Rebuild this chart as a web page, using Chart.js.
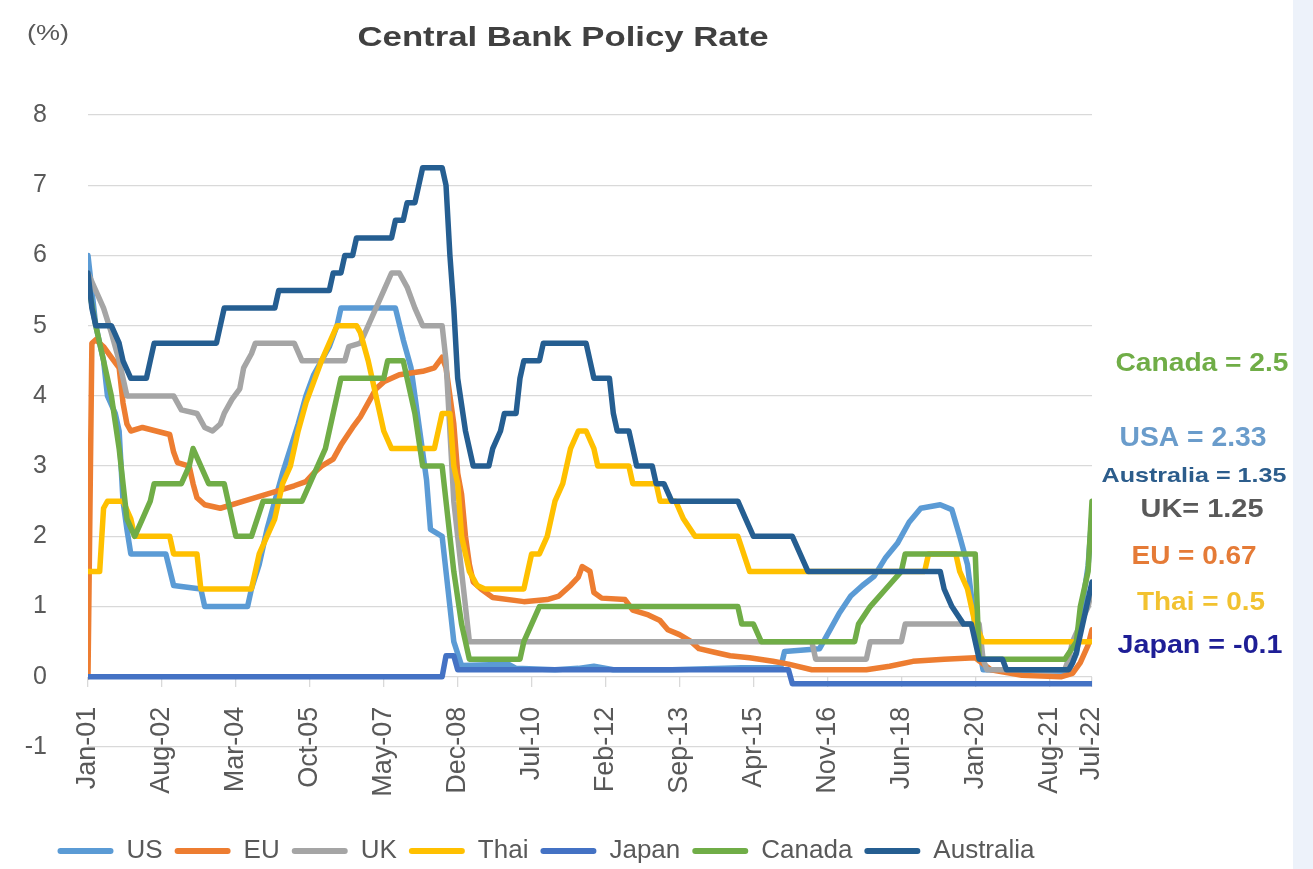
<!DOCTYPE html>
<html>
<head>
<meta charset="utf-8">
<title>Central Bank Policy Rate</title>
<script src="https://cdn.jsdelivr.net/npm/chart.js@4.4.1/dist/chart.umd.min.js"></script>
<style>
    html, body { margin: 0; padding: 0; }
    body { background: linear-gradient(to right, #ffffff 1293px, #edf2fa 1293px); }
    #chartWrap { width: 1313px; height: 869px; }
</style>
</head>
<body>
<div id="chartWrap"><canvas id="policyRateChart" width="1313" height="869"></canvas></div>
<script>
// Central Bank Policy Rate, monthly, Jan-01 .. Jul-22
// x values are month numbers counted from Jan-01 (= 0)

const tickMonths = [0, 19, 38, 57, 76, 95, 114, 133, 152, 171, 190, 209, 228, 247, 258];
const tickLabels = ['Jan-01', 'Aug-02', 'Mar-04', 'Oct-05', 'May-07', 'Dec-08', 'Jul-10', 'Feb-12',
    'Sep-13', 'Apr-15', 'Nov-16', 'Jun-18', 'Jan-20', 'Aug-21', 'Jul-22'];

const seriesNames = ['US', 'EU', 'UK', 'Thai', 'Japan', 'Canada', 'Australia'];
const seriesColors = ['#5B9BD5', '#ED7D31', '#A5A5A5', '#FFC000', '#4472C4', '#70AD47', '#255E91'];

// [month, rate %]
const usRate = [[0, 6.0], [1, 5.5], [2, 5.0], [4, 4.5], [5, 4.0], [7, 3.75], [8, 3.5], [9, 2.5], [10, 2.1],
    [11, 1.75], [20, 1.75], [22, 1.3], [29, 1.25], [30, 1.0], [41, 1.0], [42, 1.25], [44, 1.6], [46, 2.1],
    [48, 2.5], [50, 2.9], [52, 3.25], [54, 3.6], [56, 4.0], [58, 4.3], [60, 4.5], [62, 4.7], [64, 5.0],
    [65, 5.25], [79, 5.25], [81, 4.8], [83, 4.4], [85, 3.6], [87, 2.8], [88, 2.1], [91, 2.0], [92, 1.5],
    [94, 0.5], [96, 0.16], [108, 0.18], [110, 0.12], [120, 0.1], [126, 0.12], [130, 0.15], [135, 0.1],
    [150, 0.1], [168, 0.13], [178, 0.13], [179, 0.36], [188, 0.4], [190, 0.6], [193, 0.9], [196, 1.15],
    [199, 1.3], [202, 1.43], [205, 1.7], [208, 1.9], [211, 2.2], [214, 2.4], [219, 2.45], [222, 2.38],
    [224, 2.0], [226, 1.6], [228, 0.7], [230, 0.1], [252, 0.08], [253, 0.2], [254, 0.33], [255, 0.77],
    [256, 1.21], [257, 1.58], [258, 2.33]];

const euRate = [[0, 0.0], [1, 4.75], [2, 4.8], [4, 4.7], [6, 4.55], [8, 4.4], [9, 3.9], [10, 3.6], [11, 3.5],
    [14, 3.55], [21, 3.45], [22, 3.2], [23, 3.05], [26, 3.0], [27, 2.75], [28, 2.55], [30, 2.45], [34, 2.4],
    [40, 2.5], [46, 2.6], [53, 2.72], [56, 2.78], [58, 2.9], [60, 3.0], [63, 3.1], [65, 3.3], [68, 3.55],
    [70, 3.7], [72, 3.9], [74, 4.1], [76, 4.2], [80, 4.3], [86, 4.35], [89, 4.4], [91, 4.55], [92, 4.4],
    [94, 3.6], [95, 2.9], [96, 2.6], [97, 2.0], [98, 1.6], [99, 1.35], [101, 1.25], [104, 1.13], [112, 1.07],
    [118, 1.1], [121, 1.15], [124, 1.3], [126, 1.42], [127, 1.57], [129, 1.5], [130, 1.2], [132, 1.12],
    [138, 1.1], [140, 0.95], [144, 0.88], [147, 0.8], [149, 0.67], [152, 0.6], [155, 0.5], [157, 0.4],
    [161, 0.35], [165, 0.3], [170, 0.27], [176, 0.22], [180, 0.18], [186, 0.1], [200, 0.1], [206, 0.15],
    [212, 0.22], [220, 0.25], [228, 0.27], [232, 0.1], [240, 0.02], [250, 0.0], [253, 0.05], [255, 0.2],
    [257, 0.45], [258, 0.67]];

const ukRate = [[0, 5.75], [2, 5.5], [4, 5.25], [6, 4.9], [8, 4.5], [10, 4.0], [22, 4.0], [24, 3.8], [28, 3.75],
    [30, 3.55], [32, 3.5], [34, 3.6], [35, 3.75], [37, 3.95], [39, 4.1], [40, 4.4], [42, 4.6], [43, 4.75],
    [53, 4.75], [55, 4.5], [66, 4.5], [67, 4.7], [70, 4.75], [72, 5.0], [74, 5.25], [76, 5.5], [78, 5.75],
    [80, 5.75], [82, 5.55], [84, 5.25], [86, 5.0], [91, 5.0], [92, 4.5], [93, 3.5], [94, 2.5], [95, 2.0],
    [96, 1.5], [97, 1.0], [98, 0.5], [186, 0.5], [187, 0.25], [200, 0.25], [201, 0.5], [209, 0.5],
    [210, 0.75], [229, 0.75], [230, 0.25], [231, 0.1], [251, 0.1], [252, 0.25], [253, 0.5], [255, 0.75],
    [257, 1.0], [258, 1.25]];

const thaiRate = [[0, 1.5], [3, 1.5], [4, 2.4], [5, 2.5], [9, 2.5], [11, 2.25], [12, 2.0], [21, 2.0], [22, 1.75],
    [28, 1.75], [29, 1.25], [42, 1.25], [44, 1.75], [46, 2.0], [48, 2.25], [50, 2.75], [52, 3.0], [54, 3.5],
    [56, 3.9], [58, 4.2], [60, 4.5], [62, 4.75], [64, 5.0], [69, 5.0], [70, 4.9], [72, 4.5], [74, 4.0],
    [76, 3.5], [78, 3.25], [89, 3.25], [90, 3.5], [91, 3.75], [93, 3.75], [94, 3.0], [95, 2.75], [96, 2.0],
    [98, 1.5], [100, 1.3], [102, 1.25], [112, 1.25], [113, 1.5], [114, 1.75], [116, 1.75], [118, 2.0],
    [120, 2.5], [122, 2.75], [124, 3.25], [126, 3.5], [128, 3.5], [130, 3.25], [131, 3.0], [139, 3.0],
    [140, 2.75], [146, 2.75], [147, 2.5], [151, 2.5], [153, 2.25], [156, 2.0], [167, 2.0], [170, 1.5],
    [215, 1.5], [216, 1.75], [223, 1.75], [224, 1.5], [226, 1.25], [227, 1.0], [228, 0.75], [230, 0.5],
    [258, 0.5]];

const japanRate = [[0, 0.0], [91, 0.0], [92, 0.3], [94, 0.3], [95, 0.1], [180, 0.1], [181, -0.1], [258, -0.1]];

const canadaRate = [[0, 5.6], [2, 5.0], [4, 4.5], [6, 4.0], [8, 3.25], [10, 2.25], [12, 2.0], [14, 2.25],
    [16, 2.5], [17, 2.75], [24, 2.75], [26, 3.0], [27, 3.25], [29, 3.0], [31, 2.75], [35, 2.75], [37, 2.25],
    [38, 2.0], [42, 2.0], [45, 2.5], [55, 2.5], [57, 2.75], [59, 3.0], [61, 3.25], [63, 3.75], [64, 4.0],
    [65, 4.25], [76, 4.25], [77, 4.5], [81, 4.5], [82, 4.25], [84, 3.75], [86, 3.0], [91, 3.0], [92, 2.5],
    [94, 1.5], [96, 0.75], [98, 0.25], [111, 0.25], [112, 0.5], [114, 0.75], [116, 1.0], [167, 1.0],
    [168, 0.75], [171, 0.75], [173, 0.5], [197, 0.5], [198, 0.75], [201, 1.0], [205, 1.25], [209, 1.5],
    [210, 1.75], [228, 1.75], [229, 0.25], [251, 0.25], [254, 0.5], [255, 1.0], [257, 1.5], [258, 2.5]];

const australiaRate = [[0, 5.75], [1, 5.25], [2, 5.0], [6, 5.0], [8, 4.75], [9, 4.5], [11, 4.25], [15, 4.25],
    [16, 4.5], [17, 4.75], [33, 4.75], [34, 5.0], [35, 5.25], [48, 5.25], [49, 5.5], [62, 5.5], [63, 5.75],
    [65, 5.75], [66, 6.0], [68, 6.0], [69, 6.25], [78, 6.25], [79, 6.5], [81, 6.5], [82, 6.75], [84, 6.75],
    [85, 7.0], [86, 7.25], [91, 7.25], [92, 7.0], [93, 6.0], [94, 5.25], [95, 4.25], [97, 3.5], [98, 3.25],
    [99, 3.0], [103, 3.0], [104, 3.25], [106, 3.5], [107, 3.75], [110, 3.75], [111, 4.25], [112, 4.5],
    [116, 4.5], [117, 4.75], [128, 4.75], [129, 4.5], [130, 4.25], [134, 4.25], [135, 3.75], [136, 3.5],
    [139, 3.5], [140, 3.25], [141, 3.0], [145, 3.0], [146, 2.75], [148, 2.75], [150, 2.5], [167, 2.5],
    [169, 2.25], [171, 2.0], [181, 2.0], [183, 1.75], [185, 1.5], [219, 1.5], [220, 1.25], [222, 1.0],
    [225, 0.75], [227, 0.75], [228, 0.5], [229, 0.25], [235, 0.25], [236, 0.1], [252, 0.1], [253, 0.2],
    [254, 0.35], [255, 0.6], [256, 0.85], [258, 1.35]];

const seriesValues = [usRate, euRate, ukRate, thaiRate, japanRate, canadaRate, australiaRate];

// latest readings written at the right of the plot
const latestLabels = ['Canada = 2.5', 'USA = 2.33', 'Australia = 1.35', 'UK= 1.25', 'EU = 0.67', 'Thai = 0.5', 'Japan = -0.1'];

const FONT = '"Liberation Sans", Arial, Helvetica, sans-serif';
Chart.defaults.font.family = FONT;

// text squeezed / stretched to the width it has on the original picture
function drawFittedText(ctx, text, cx, cy, font, color, width) {
    ctx.save();
    ctx.font = font;
    ctx.fillStyle = color;
    ctx.textAlign = 'center';
    ctx.textBaseline = 'middle';
    const measured = ctx.measureText(text).width;
    ctx.translate(cx, cy);
    ctx.scale(width / measured, 1);
    ctx.fillText(text, 0, 0);
    ctx.restore();
}

const chartTexts = {
    id: 'chartTexts',
    afterDraw(chart) {
        const ctx = chart.ctx;
        drawFittedText(ctx, 'Central Bank Policy Rate', 563, 38, 'bold 28px ' + FONT, '#404040', 411);
        drawFittedText(ctx, '(%)', 48, 34, '22px ' + FONT, '#595959', 42);

        const styles = [
            { y: 364, size: 25, color: '#70AD47', width: 173, x: 1202 },
            { y: 439, size: 27, color: '#6A9CCB', width: 147, x: 1193 },
            { y: 476, size: 21, color: '#2C5D8C', width: 185, x: 1194 },
            { y: 510, size: 26, color: '#595959', width: 123, x: 1202 },
            { y: 557, size: 25, color: '#E57B37', width: 125, x: 1194 },
            { y: 603, size: 25, color: '#F2C230', width: 128, x: 1201 },
            { y: 646, size: 26, color: '#1E1E96', width: 165, x: 1200 }
        ];
        latestLabels.forEach((text, i) => {
            const s = styles[i];
            drawFittedText(ctx, text, s.x, s.y, 'bold ' + s.size + 'px ' + FONT, s.color, s.width);
        });
    }
};

const ctx = document.getElementById('policyRateChart');
new Chart(ctx, {
    type: 'line',
    data: {
        datasets: seriesNames.map((name, i) => ({
            label: name,
            data: seriesValues[i],
            borderColor: seriesColors[i],
            backgroundColor: seriesColors[i],
            borderWidth: 5.5,
            borderJoinStyle: 'round',
            borderCapStyle: 'round',
            pointRadius: 0,
            tension: 0,
            order: seriesNames.length - i
        }))
    },
    options: {
        responsive: false,
        animation: false,
        layout: {
            padding: { top: 115, right: 221, bottom: -5, left: 0 }
        },
        plugins: {
            tooltip: { enabled: false },
            legend: {
                position: 'bottom',
                // empty title only used as a spacer under the tick labels
                title: { display: true, text: '', font: { size: 10 }, padding: { top: 67, bottom: 0 } },
                labels: {
                    color: '#595959',
                    font: { size: 26 },
                    boxWidth: 56,
                    boxHeight: 6,
                    padding: 12,
                    generateLabels: (chart) => chart.data.datasets.map((ds, i) => ({
                        text: ds.label,
                        fillStyle: ds.borderColor,
                        strokeStyle: ds.borderColor,
                        lineWidth: 0,
                        borderRadius: 3,
                        fontColor: '#595959',
                        hidden: !chart.isDatasetVisible(i),
                        datasetIndex: i
                    }))
                }
            }
        },
        scales: {
            x: {
                type: 'linear',
                position: { y: 0 },
                min: 0,
                max: 258,
                afterBuildTicks: (scale) => {
                    scale.ticks = tickMonths.map(v => ({ value: v }));
                },
                afterFit: (scale) => {
                    scale.height = 0;
                },
                grid: {
                    drawOnChartArea: false,
                    drawTicks: true,
                    tickLength: 10,
                    color: '#D9D9D9',
                    lineWidth: 1.3
                },
                border: { display: false },
                ticks: {
                    autoSkip: false,
                    minRotation: 90,
                    maxRotation: 90,
                    padding: 20,
                    color: '#595959',
                    font: { size: 27 },
                    callback: (value, index) => tickLabels[index]
                }
            },
            y: {
                min: -1,
                max: 8,
                afterFit: (scale) => {
                    scale.width = 88;
                },
                grid: { color: '#D9D9D9', lineWidth: 1.3, drawTicks: false },
                border: { display: false },
                ticks: {
                    stepSize: 1,
                    padding: 41,
                    color: '#595959',
                    font: { size: 25 }
                }
            }
        }
    },
    plugins: [chartTexts]
});
</script>
</body>
</html>
